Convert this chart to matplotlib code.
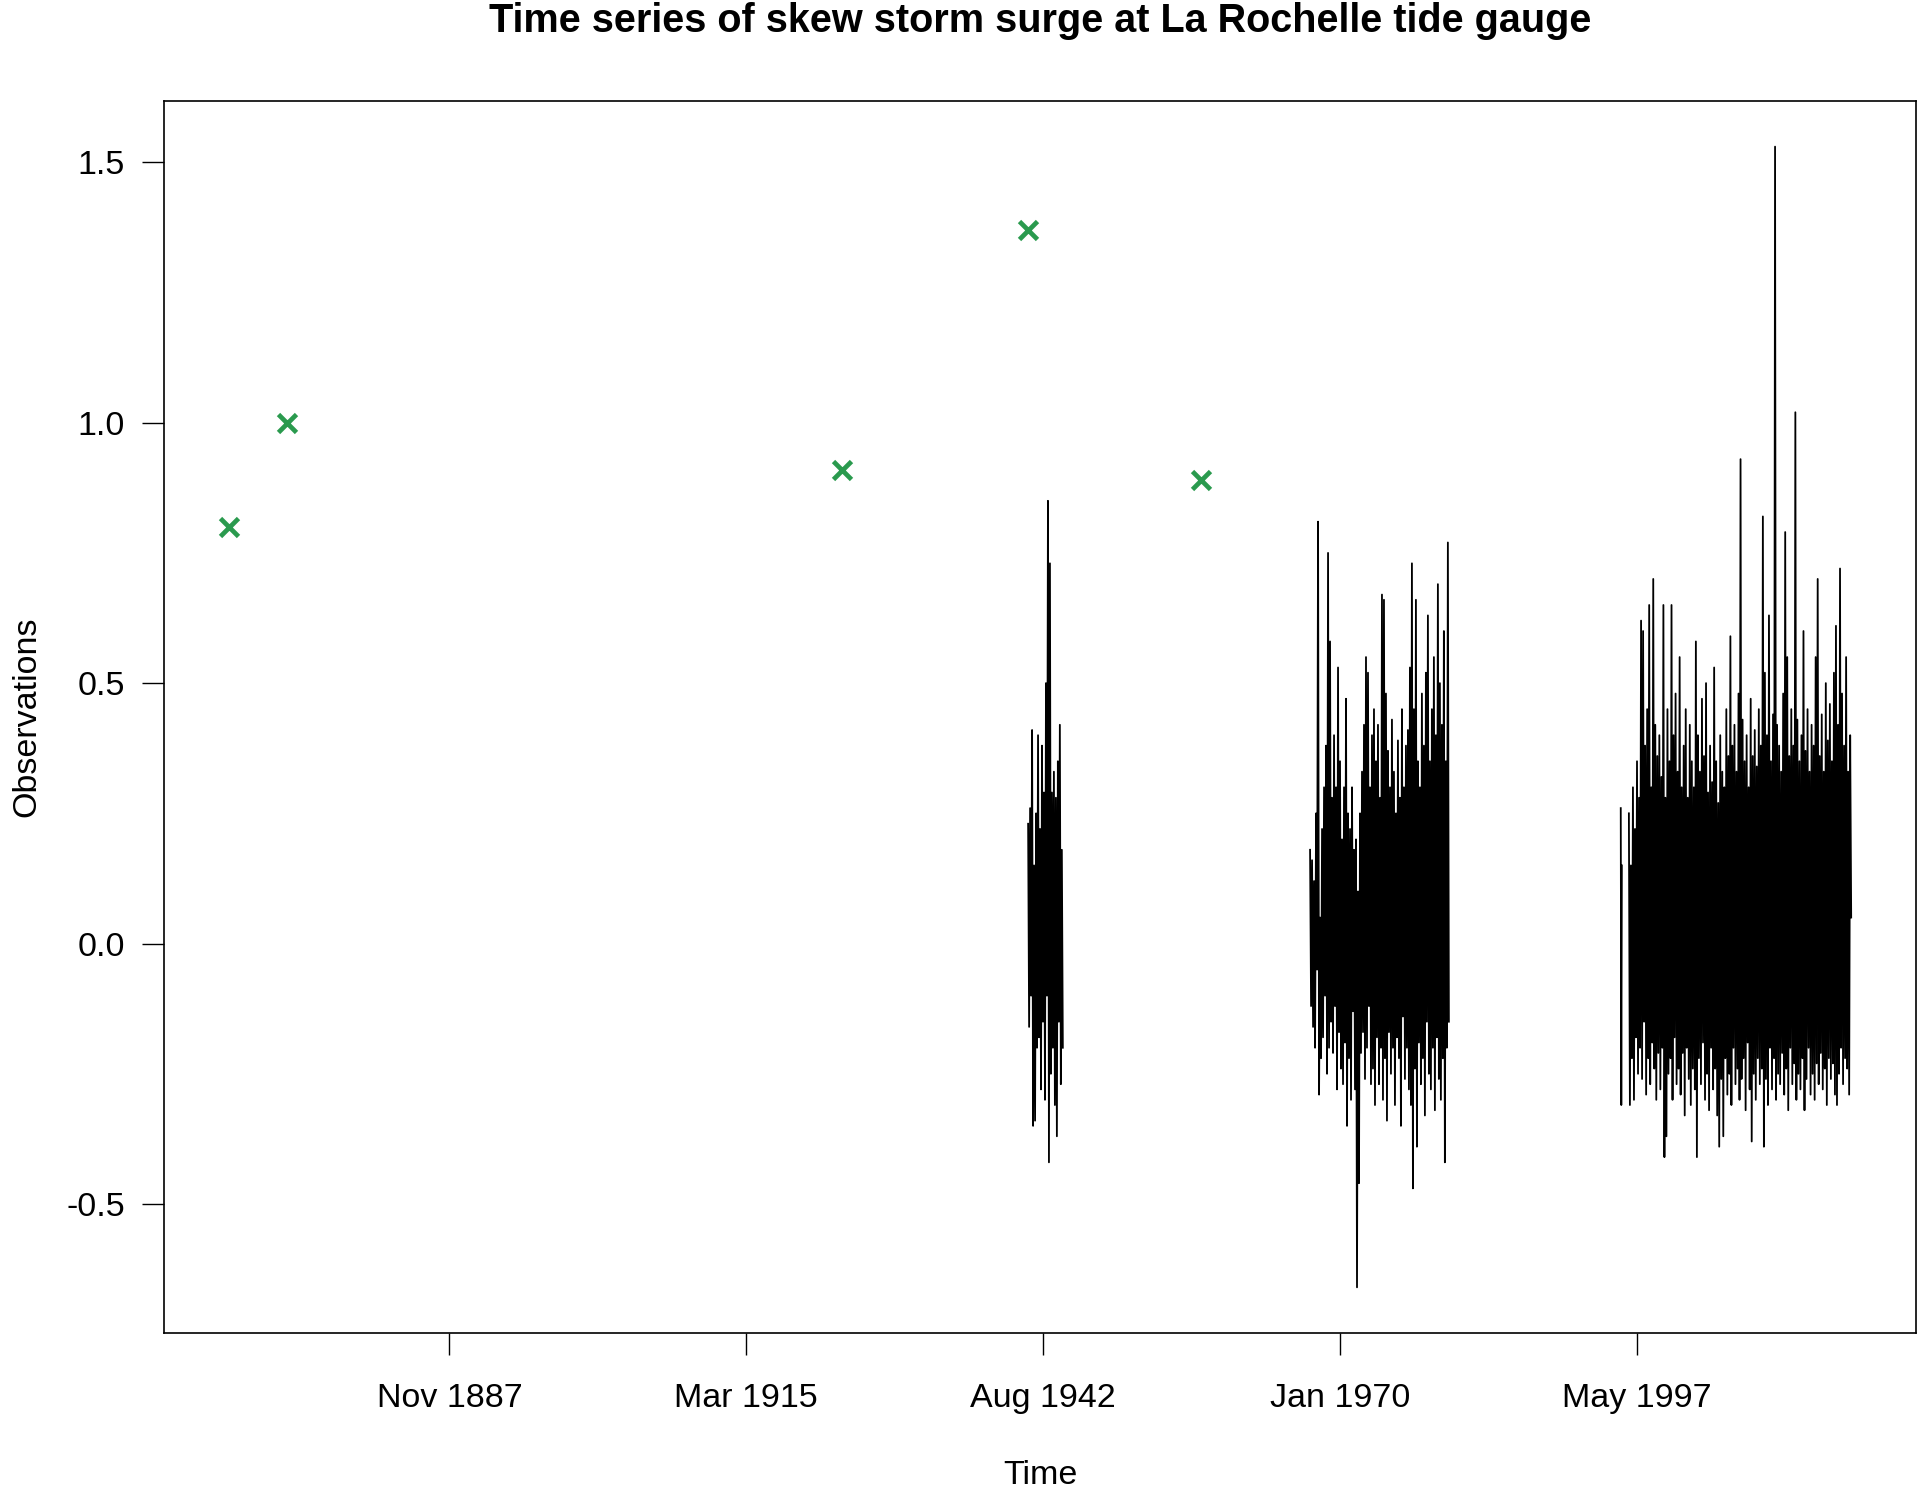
import numpy as np
import matplotlib
matplotlib.use("Agg")
import matplotlib.pyplot as plt

plt.rcParams['font.family'] = ['Liberation Sans', 'DejaVu Sans']

# historical surges (decimal year, skew surge in m)
hist_years = [1867.5, 1872.9, 1924.0, 1941.2, 1957.1]
hist_values = [0.80, 1.00, 0.91, 1.37, 0.89]

# systematic record, three periods (start year, end year)
seg1_span = (1941.2, 1944.4)
seg1_values = [0.23, -0.16, 0.26, -0.10, 0.41, -0.35, 0.15, -0.34, 0.25, -0.20,
               0.40, -0.18, 0.22, -0.28, 0.38, -0.15, 0.29, -0.30, 0.50, -0.10,
               0.85, -0.42, 0.73, -0.25, 0.29, -0.20, 0.33, -0.31, 0.28, -0.37,
               0.35, -0.15, 0.42, -0.27, 0.18, -0.20]

seg2_span = (1967.2, 1980.0)
seg2_values = [0.18, -0.12, 0.16, -0.16, 0.12, -0.20, 0.25, -0.05, 0.81, -0.29,
               0.05, -0.22, 0.22, -0.18, 0.30, -0.10, 0.38, -0.25, 0.75, -0.20,
               0.58, -0.15, 0.28, -0.21, 0.40, -0.12, 0.30, -0.28, 0.53, -0.17,
               0.35, -0.24, 0.20, -0.27, 0.30, -0.19, 0.47, -0.35, 0.25, -0.22,
               0.22, -0.30, 0.30, -0.13, 0.18, -0.28, 0.20, -0.66, 0.10, -0.46,
               0.25, -0.21, 0.33, -0.17, 0.42, -0.26, 0.55, -0.20, 0.52, -0.12,
               0.30, -0.27, 0.40, -0.24, 0.45, -0.31, 0.35, -0.18, 0.42, -0.27,
               0.28, -0.20, 0.67, -0.30, 0.66, -0.22, 0.48, -0.34, 0.37, -0.17,
               0.30, -0.25, 0.43, -0.20, 0.33, -0.31, 0.25, -0.18, 0.39, -0.22,
               0.28, -0.35, 0.45, -0.14, 0.30, -0.26, 0.38, -0.20, 0.41, -0.28,
               0.53, -0.31, 0.73, -0.47, 0.45, -0.24, 0.66, -0.39, 0.35, -0.19,
               0.30, -0.27, 0.48, -0.22, 0.38, -0.33, 0.52, -0.15, 0.63, -0.25,
               0.35, -0.28, 0.45, -0.20, 0.55, -0.32, 0.40, -0.18, 0.69, -0.26,
               0.50, -0.30, 0.42, -0.22, 0.60, -0.42, 0.35, -0.20, 0.77, -0.15]

seg3a_span = (1995.85, 1995.95)
seg3a_values = [0.26, -0.31, 0.15]

seg3_span = (1996.6, 2017.1)
seg3_values = [0.25, -0.31, 0.15, -0.22, 0.30, -0.30, 0.22, -0.18, 0.35, -0.25,
               0.28, -0.20, 0.62, -0.26, 0.60, -0.15, 0.38, -0.29, 0.45, -0.22,
               0.65, -0.27, 0.30, -0.19, 0.70, -0.24, 0.42, -0.30, 0.36, -0.21,
               0.40, -0.28, 0.32, -0.20, 0.65, -0.41, 0.28, -0.37, 0.45, -0.25,
               0.35, -0.22, 0.65, -0.30, 0.40, -0.18, 0.48, -0.27, 0.33, -0.24,
               0.55, -0.29, 0.30, -0.21, 0.38, -0.33, 0.45, -0.20, 0.28, -0.26,
               0.42, -0.31, 0.35, -0.24, 0.30, -0.28, 0.58, -0.41, 0.40, -0.22,
               0.33, -0.27, 0.47, -0.19, 0.36, -0.30, 0.50, -0.25, 0.29, -0.32,
               0.38, -0.20, 0.31, -0.28, 0.53, -0.24, 0.35, -0.33, 0.27, -0.39,
               0.40, -0.26, 0.33, -0.37, 0.30, -0.22, 0.45, -0.29, 0.36, -0.25,
               0.59, -0.31, 0.38, -0.20, 0.42, -0.27, 0.33, -0.24, 0.48, -0.30,
               0.93, -0.26, 0.43, -0.22, 0.35, -0.32, 0.40, -0.19, 0.30, -0.28,
               0.47, -0.38, 0.36, -0.25, 0.41, -0.30, 0.34, -0.22, 0.45, -0.27,
               0.38, -0.24, 0.82, -0.39, 0.52, -0.26, 0.40, -0.31, 0.63, -0.20,
               0.35, -0.28, 0.44, -0.22, 1.53, -0.30, 0.42, -0.25, 0.38, -0.27,
               0.33, -0.21, 0.48, -0.29, 0.79, -0.24, 0.55, -0.32, 0.36, -0.20,
               0.45, -0.27, 0.38, -0.23, 1.02, -0.30, 0.43, -0.25, 0.35, -0.28,
               0.40, -0.22, 0.60, -0.32, 0.37, -0.26, 0.45, -0.20, 0.33, -0.29,
               0.42, -0.25, 0.38, -0.30, 0.55, -0.23, 0.70, -0.27, 0.36, -0.21,
               0.44, -0.28, 0.33, -0.24, 0.50, -0.31, 0.39, -0.22, 0.46, -0.26,
               0.35, -0.23, 0.52, -0.29, 0.61, -0.31, 0.42, -0.25, 0.72, -0.20,
               0.48, -0.27, 0.38, -0.22, 0.55, -0.24, 0.33, -0.29, 0.40, 0.05]

tick_years = [1887.83, 1915.17, 1942.58, 1970.0, 1997.33]
tick_labels = ['Nov 1887', 'Mar 1915', 'Aug 1942', 'Jan 1970', 'May 1997']

fig = plt.figure(figsize=(19.23, 14.92), dpi=100)
ax = fig.add_axes([0.0853, 0.1066, 0.9111, 0.8257])

for span, vals in [(seg1_span, seg1_values), (seg2_span, seg2_values),
                   (seg3a_span, seg3a_values), (seg3_span, seg3_values)]:
    t = np.linspace(span[0], span[1], len(vals))
    ax.plot(t, vals, color='black', lw=1.3)

ax.plot(hist_years, hist_values, linestyle='none', marker='x', color='#2a9a4e',
        markersize=13, markeredgewidth=3.4)

# R style 4% padding
xmin, xmax = 1867.5, 2017.1
xr = xmax - xmin
ax.set_xlim(xmin - 0.04 * xr, xmax + 0.04 * xr)
ymin, ymax = -0.66, 1.53
yr = ymax - ymin
ax.set_ylim(ymin - 0.04 * yr, ymax + 0.04 * yr)

ax.set_xticks(tick_years)
ax.set_xticklabels(tick_labels)
ax.set_yticks([-0.5, 0.0, 0.5, 1.0, 1.5])
ax.set_yticklabels(['-0.5', '0.0', '0.5', '1.0', '1.5'])
ax.tick_params(axis='both', direction='out', length=16, width=1.0, labelsize=24.5)
ax.tick_params(axis='x', pad=20)
ax.tick_params(axis='y', pad=12)
for s in ax.spines.values():
    s.set_linewidth(1.2)

ax.set_title('Time series of skew storm surge at La Rochelle tide gauge',
             fontsize=28.5, fontweight='bold', pad=50)
ax.set_xlabel('Time', fontsize=24.5, labelpad=33)
ax.set_ylabel('Observations', fontsize=24.5, labelpad=17)

fig.savefig('out.png', dpi=100)
